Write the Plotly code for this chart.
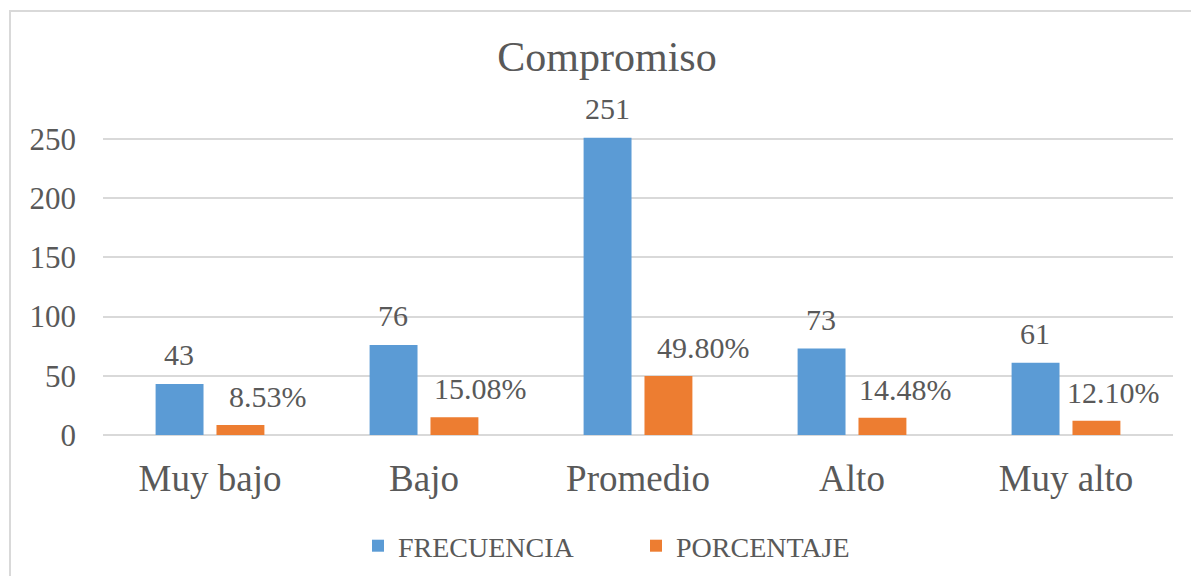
import plotly.graph_objects as go

categories = ["Muy bajo", "Bajo", "Promedio", "Alto", "Muy alto"]
frecuencia = [43, 76, 251, 73, 61]
porcentaje = [8.53, 15.08, 49.80, 14.48, 12.10]
porcentaje_labels = ["8.53%", "15.08%", "49.80%", "14.48%", "12.10%"]
y_ticks = [0, 50, 100, 150, 200, 250]

# label horizontal nudges (px) for the percentage labels, as placed in the original
pct_label_dx = [58, 56, 65, 53, 47]

W, H = 1191, 576
L, R, T, B = 103, 18, 132, 141
plot_h = H - T - B
plot_w = W - L - R
FONT = "Liberation Serif"
TXT = "#595959"

def px_x(p):
    return (p - L) / plot_w

def px_y(p):
    return (H - B - p) / plot_h

fig = go.Figure()
fig.add_trace(go.Bar(name="FRECUENCIA", x=categories, y=frecuencia,
                     marker=dict(color="#5B9BD5", line=dict(width=0))))
fig.add_trace(go.Bar(name="PORCENTAJE", x=categories, y=porcentaje,
                     marker=dict(color="#ED7D31", line=dict(width=0))))

for c, v in zip(categories, frecuencia):
    fig.add_annotation(x=c, y=v, text=str(v), showarrow=False, xref="x", yref="y",
                       xshift=-31, yanchor="bottom", yshift=11,
                       font=dict(family=FONT, size=30, color=TXT))
for c, v, t, dx in zip(categories, porcentaje, porcentaje_labels, pct_label_dx):
    fig.add_annotation(x=c, y=v, text=t, showarrow=False, xref="x", yref="y",
                       xshift=dx, yanchor="bottom", yshift=10,
                       font=dict(family=FONT, size=30, color=TXT))

# chart area border (left and top edges visible)
fig.add_shape(type="rect", xref="paper", yref="paper",
              x0=px_x(10), x1=px_x(1210), y0=px_y(600), y1=px_y(11),
              line=dict(color="#D9D9D9", width=2), fillcolor="rgba(0,0,0,0)",
              layer="below")

fig.update_layout(
    width=W, height=H,
    margin=dict(l=L, r=R, t=T, b=B, autoexpand=False),
    paper_bgcolor="white", plot_bgcolor="white",
    barmode="group", bargap=0.431, bargroupgap=0.213,
    title=dict(text="Compromiso", x=607 / W, xref="container", xanchor="center",
               y=1 - 56 / H, yref="container", yanchor="middle",
               font=dict(family=FONT, size=42, color=TXT)),
    legend=dict(orientation="h", x=px_x(358), xanchor="left", y=px_y(546), yanchor="middle",
                font=dict(family=FONT, size=28, color=TXT), entrywidth=233,
                bgcolor="rgba(0,0,0,0)"),
    xaxis=dict(showgrid=False, showline=False, ticks="", ticklabelstandoff=18,
               tickfont=dict(family=FONT, size=37, color=TXT)),
    yaxis=dict(range=[0, plot_h / 1.184], tickvals=y_ticks, showgrid=True,
               gridcolor="#D9D9D9", gridwidth=1.5, zeroline=True, zerolinecolor="#D9D9D9",
               zerolinewidth=1.5, showline=False, ticks="", ticklabelstandoff=26,
               tickfont=dict(family=FONT, size=31, color=TXT)),
)

fig.write_html("out.html", config={"displayModeBar": False},
               post_script="document.body.style.margin='0';")
